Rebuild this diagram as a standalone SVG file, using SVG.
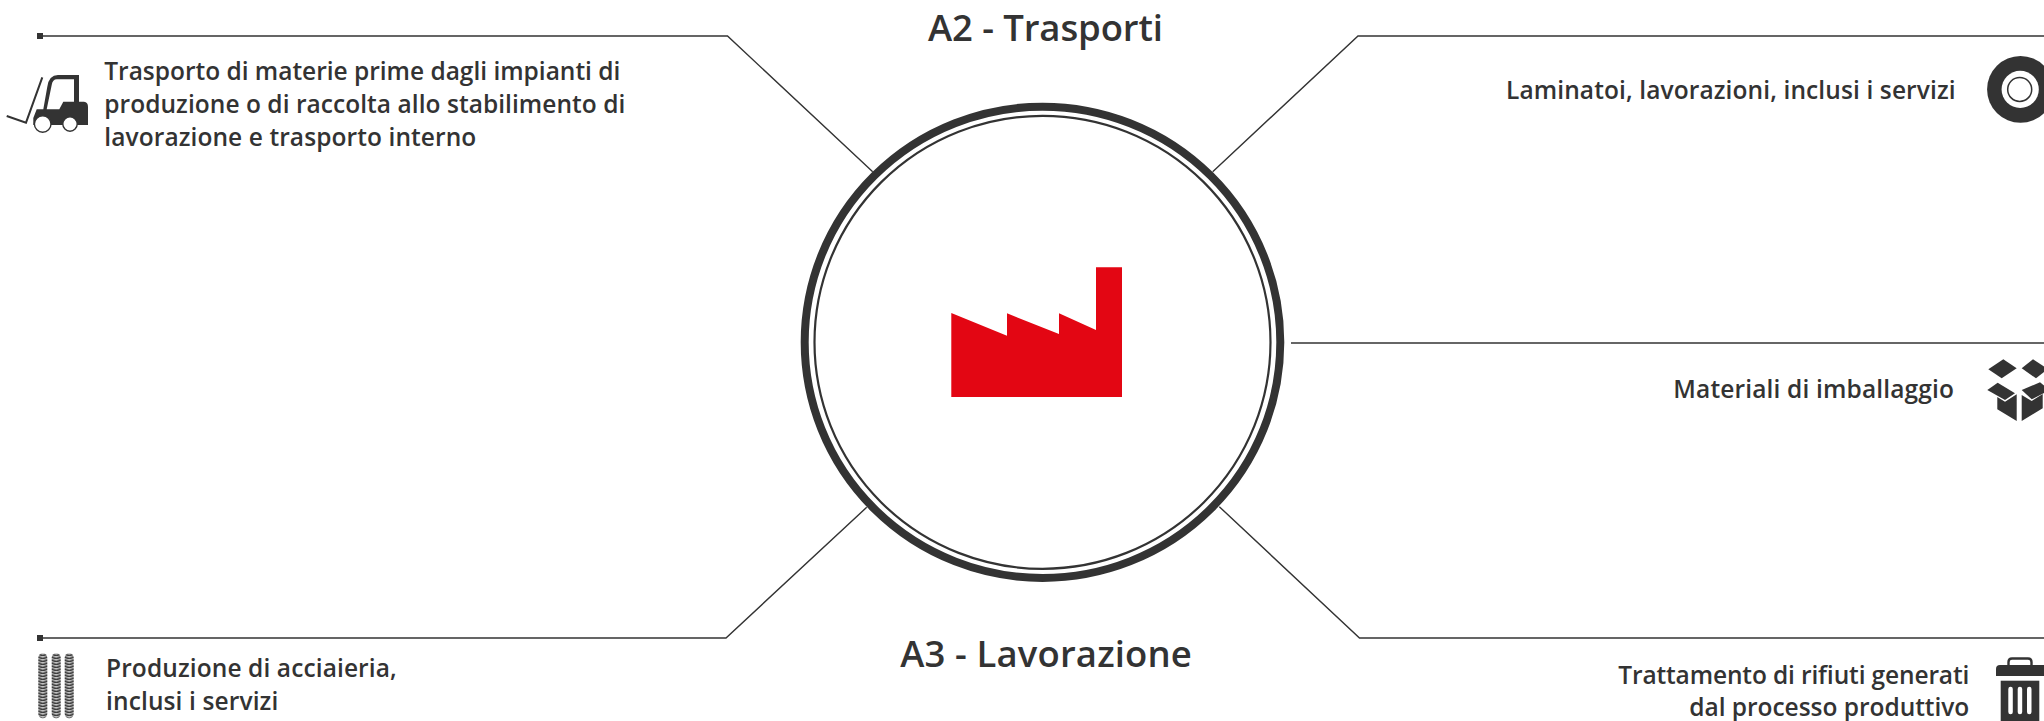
<svg xmlns="http://www.w3.org/2000/svg" width="2044" height="721" viewBox="0 0 2044 721">
<style>
text{font-family:"Open Sans","Noto Sans","Liberation Sans",sans-serif;font-weight:600;font-size:24.5px;fill:#333}
.h{font-size:36.5px;text-anchor:middle}
.e{text-anchor:end}
.c{fill:none;stroke:#333;stroke-width:1.4}
.d{fill:#333}
.w{fill:#fff}
</style>
<defs>
<pattern id="coil" patternUnits="userSpaceOnUse" x="0" y="0" width="9" height="3">
<rect width="9" height="3" fill="#fff"/>
<path d="M-1,0.6L4.5,2.4L10,0.6" fill="none" stroke="#333" stroke-width="2"/>
</pattern>
<rect id="spring" x="0" y="0" width="9" height="65" rx="4.5" fill="url(#coil)"/>
</defs>
<rect width="2044" height="721" fill="#fff"/>
<g id="connectors">
<path class="c" d="M43,36H727.5L872.7,171.7"/>
<path class="c" d="M2044,36H1358L1212.7,171.7"/>
<path class="c" d="M1291,343H2044"/>
<path class="c" d="M43,638H726L866.7,507.3"/>
<path class="c" d="M2044,638H1359.5L1219.3,506.7"/>
<rect class="d" x="37" y="33" width="6" height="6"/>
<rect class="d" x="37" y="635" width="6" height="6"/>
</g>
<g id="center">
<ellipse cx="1042.5" cy="342.3" rx="237.8" ry="235.6" fill="#fff" stroke="#333" stroke-width="8"/>
<ellipse cx="1042.5" cy="342.3" rx="228" ry="226.5" fill="none" stroke="#333" stroke-width="2.2"/>
<path fill="#e30613" d="M951.3,313L1007,335.7V313.3L1059,334V313.3L1096,330V267.3H1122V397H951.3Z"/>
</g>
<g id="a2-title"><text class="h" x="1045.5" y="41" textLength="235">A2 - Trasporti</text></g>
<g id="a3-title"><text class="h" x="1046" y="666.7" textLength="291.7">A3 - Lavorazione</text></g>
<g id="trasporto">
<path class="d" fill-rule="evenodd" d="M33.3,118L36.7,109.3H43.3L47.3,86.7Q49,75 58,75H79V101.7H84Q88,102 88,107V125H33.3ZM46.7,109.3H59.3L63.3,101.7H74V79.3H57Q52.5,79.3 51.7,85Z"/>
<circle cx="42.7" cy="124" r="8.3" fill="#fff" stroke="#333" stroke-width="1.4"/>
<circle cx="70" cy="124" r="7.2" fill="#fff" stroke="#333" stroke-width="1.4"/>
<path fill="none" stroke="#333" stroke-width="2" d="M42.3,77.3L26,122.7L6.7,116"/>
<text x="104.3" y="80.3" textLength="516">Trasporto di materie prime dagli impianti di</text>
<text x="104.3" y="112.7" textLength="521">produzione o di raccolta allo stabilimento di</text>
<text x="104.3" y="146" textLength="372">lavorazione e trasporto interno</text>
</g>
<g id="laminatoi">
<circle cx="2020.5" cy="89.4" r="33.4" class="d"/>
<circle cx="2020.2" cy="89.4" r="18.6" class="w"/>
<circle cx="2019.7" cy="89.4" r="12" fill="none" stroke="#333" stroke-width="1.5"/>
<text class="e" x="1955.6" y="99" textLength="449.6">Laminatoi, lavorazioni, inclusi i servizi</text>
</g>
<g id="imballaggio">
<path class="d" d="M1988.3,369.3L2003.3,359.3L2016.7,368.3L2001.7,378.3Z"/>
<path class="d" d="M2021.7,368.3L2033,359.3L2048,369L2036,378.3Z"/>
<path class="d" d="M1987.3,390L1997.7,382.7L2015,393.3L2005,400Z"/>
<path class="d" d="M1997.3,397L2005,401.7L2016.7,394.3V421L1997.3,409.3Z"/>
<path class="d" d="M2021.7,421V395L2031.7,401L2042.7,394V408.3Z"/>
<path class="d" d="M2021.7,390L2040,382.3L2050,390L2031.7,399.3Z"/>
<text class="e" x="1954" y="398.3" textLength="280.7">Materiali di imballaggio</text>
</g>
<g id="rifiuti">
<path class="d" d="M1996,676V669Q1996,665 2000,665H2044V676Z"/>
<path fill="none" stroke="#333" stroke-width="2.4" d="M2008.5,665V662Q2008.5,658.5 2012,658.5H2028Q2031.5,658.5 2031.5,662V665"/>
<rect class="d" x="2000.7" y="680.7" width="38.6" height="40.3"/>
<rect class="w" x="2008.3" y="686.7" width="4.5" height="27.5" rx="2.2"/>
<rect class="w" x="2017.7" y="686.7" width="4.5" height="27.5" rx="2.2"/>
<rect class="w" x="2027" y="686.7" width="4.5" height="27.5" rx="2.2"/>
<text class="e" x="1969.3" y="684" textLength="351">Trattamento di rifiuti generati</text>
<text class="e" x="1969.3" y="716" textLength="280">dal processo produttivo</text>
</g>
<g id="acciaieria">
<use href="#spring" transform="translate(38.3 653.3)"/>
<use href="#spring" transform="translate(51.7 653.3)"/>
<use href="#spring" transform="translate(64.7 653.3)"/>
<text x="106" y="676.5" textLength="290.7">Produzione di acciaieria,</text>
<text x="106" y="709.5" textLength="172.3">inclusi i servizi</text>
</g>
</svg>
